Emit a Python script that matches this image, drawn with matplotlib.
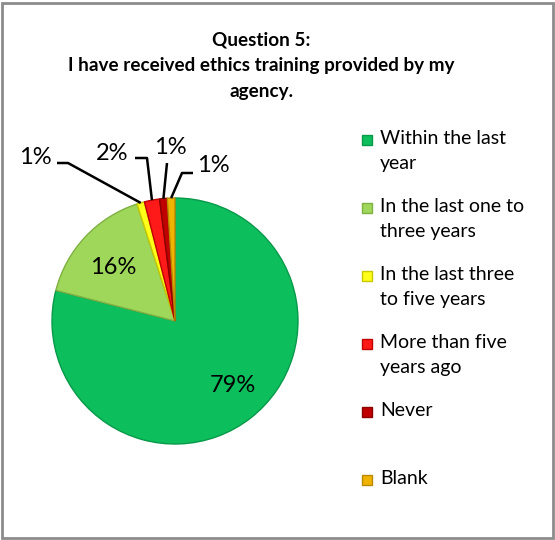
import numpy as np
import matplotlib.pyplot as plt
from matplotlib.patches import Rectangle

# Survey answers for question 5
categories = ["Within the last\nyear", "In the last one to\nthree years",
              "In the last three\nto five years", "More than five\nyears ago",
              "Never", "Blank"]
percents = [79, 16, 1, 2, 1, 1]
colors = ["#0cbe5c", "#9fd75a", "#ffff1a", "#ff1a1a", "#c00000", "#f0b400"]
edge_colors = ["#08994a", "#7fb042", "#c8c800", "#c00000", "#8a0000", "#b88a00"]

title = "Question 5:\nI have received ethics training provided by my\nagency."

W, H = 555, 540
fig = plt.figure(figsize=(W / 100, H / 100), dpi=100)
ax = fig.add_axes([0, 0, 1, 1])

font = "Lato"

cx, cy, r = 175, H - 321, 123
wedges, _ = ax.pie(percents, colors=colors, startangle=90, counterclock=False,
                   center=(cx, cy), radius=r, frame=True,
                   wedgeprops=dict(linewidth=1.0))
for w, ec in zip(wedges, edge_colors):
    w.set_edgecolor(ec)
ax.set_xlim(0, W)
ax.set_ylim(0, H)
ax.set_aspect("equal")
ax.axis("off")

# outer frame
ax.add_patch(Rectangle((2, 2), W - 4, H - 5, fill=False, edgecolor="#8c8c8c", lw=2))

ax.text(261, H - 66, title, ha="center", va="center", fontsize=13.6,
        fontweight="bold", family=font, linespacing=1.62)

# big slice labels inside
inside = {0: (233, 385), 1: (113, 267)}
for i, (lx, ly) in inside.items():
    ax.text(lx, H - ly, f"{percents[i]}%", ha="center", va="center",
            fontsize=17, family=font)

# small slices get labels outside with leader lines
outside = {2: ((35, 157), (57, 68, 163)),
           3: ((112, 153), (135, 147, 158)),
           4: ((170, 147), (167, 167, 163)),
           5: ((213, 166), (193, 182, 173))}
for i, ((lx, ly), (x0, x1, ly2)) in outside.items():
    w = wedges[i]
    mid = np.deg2rad((w.theta1 + w.theta2) / 2)
    px, py = cx + r * np.cos(mid), cy + r * np.sin(mid)
    ax.plot([x0, x1, px], [H - ly2, H - ly2, py], color="black", lw=1.8,
            solid_capstyle="butt")
    ax.text(lx, H - ly, f"{percents[i]}%", ha="center", va="center",
            fontsize=17, family=font)

# legend
for k, (lab, c, ec) in enumerate(zip(categories, colors, edge_colors)):
    y = H - (140 + 68 * k)
    ax.add_patch(Rectangle((362, y - 5), 10, 10, facecolor=c, edgecolor=ec, lw=1))
    ax.text(380, y + 10, lab, ha="left", va="top", fontsize=14, family=font,
            linespacing=1.55)

fig.savefig("out.png", dpi=100)
